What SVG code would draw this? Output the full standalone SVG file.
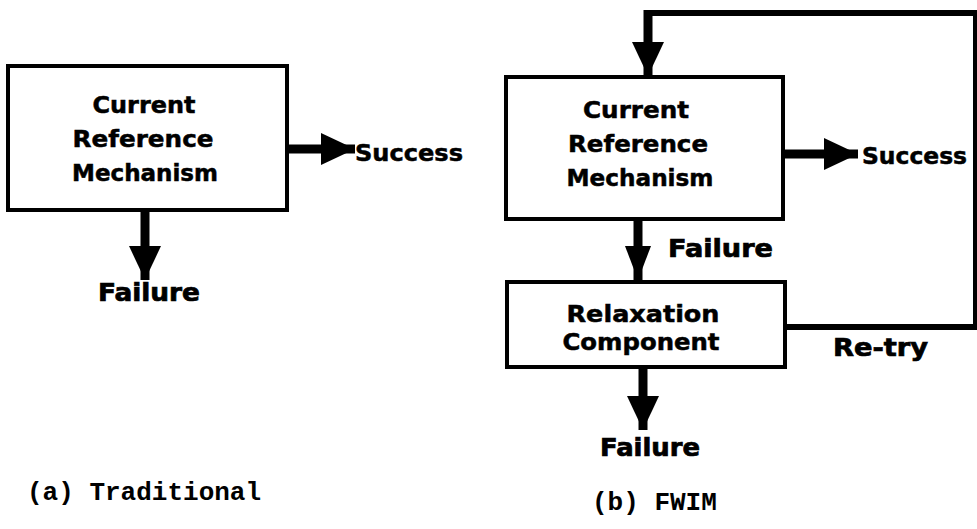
<svg xmlns="http://www.w3.org/2000/svg" width="977" height="529" viewBox="0 0 977 529">
<style>
.box{fill:#fff;stroke:#000;stroke-width:4}
.t{font-family:"DejaVu Sans","Liberation Sans",sans-serif;font-weight:bold;font-size:23px;fill:#000;stroke:#000;stroke-width:0.5}
.s{font-family:"DejaVu Sans","Liberation Sans",sans-serif;font-weight:bold;font-size:23px;fill:#000;stroke:#000;stroke-width:0.5}
.f{font-family:"DejaVu Sans","Liberation Sans",sans-serif;font-weight:bold;font-size:24px;fill:#000;stroke:#000;stroke-width:0.7}
.cap{font-family:"Liberation Mono","Courier New",monospace;font-weight:bold;font-size:26px;fill:#000}
.ln{fill:none;stroke:#000;stroke-width:9}
.fb{fill:none;stroke:#000;stroke-width:6}
</style>
<defs>
<marker id="ah" markerUnits="userSpaceOnUse" markerWidth="36" markerHeight="34" refX="34" refY="16" orient="auto">
<path d="M0,0 L34,16 L0,32 z" fill="#000"/>
</marker>
<marker id="ahs" markerUnits="userSpaceOnUse" markerWidth="36" markerHeight="28" refX="34" refY="13" orient="auto">
<path d="M0,0 L34,13 L0,26 z" fill="#000"/>
</marker>
</defs>
<g id="a-crm">
<rect class="box" x="8" y="66" width="279" height="144"/>
<text class="t" x="144" y="113" text-anchor="middle" textLength="103" lengthAdjust="spacingAndGlyphs">Current</text>
<text class="t" x="143" y="147" text-anchor="middle" textLength="141" lengthAdjust="spacingAndGlyphs">Reference</text>
<text class="t" x="145" y="181" text-anchor="middle" textLength="146" lengthAdjust="spacingAndGlyphs">Mechanism</text>
</g>
<g id="a-success"><text class="s" x="355" y="161" textLength="108" lengthAdjust="spacingAndGlyphs">Success</text></g>
<g id="a-failure"><text class="f" x="98" y="301" textLength="102" lengthAdjust="spacingAndGlyphs">Failure</text></g>
<g id="a-caption"><text class="cap" x="27" y="500">(a) Traditional</text></g>
<g id="b-crm">
<rect class="box" x="506" y="77" width="277" height="142"/>
<text class="t" x="636" y="118" text-anchor="middle" textLength="106" lengthAdjust="spacingAndGlyphs">Current</text>
<text class="t" x="638" y="152" text-anchor="middle" textLength="140" lengthAdjust="spacingAndGlyphs">Reference</text>
<text class="t" x="640" y="186" text-anchor="middle" textLength="147" lengthAdjust="spacingAndGlyphs">Mechanism</text>
</g>
<g id="b-success"><text class="s" x="862" y="164" textLength="105" lengthAdjust="spacingAndGlyphs">Success</text></g>
<g id="b-failure1"><text class="f" x="668" y="257" textLength="105" lengthAdjust="spacingAndGlyphs">Failure</text></g>
<g id="b-relax">
<rect class="box" x="507" y="282" width="278" height="85"/>
<text class="t" x="643" y="322" text-anchor="middle" textLength="153" lengthAdjust="spacingAndGlyphs">Relaxation</text>
<text class="t" x="641" y="350" text-anchor="middle" textLength="157" lengthAdjust="spacingAndGlyphs">Component</text>
</g>
<g id="b-retry"><text class="f" x="833" y="356" textLength="95" lengthAdjust="spacingAndGlyphs">Re-try</text></g>
<g id="b-failure2"><text class="f" x="600" y="456" textLength="100" lengthAdjust="spacingAndGlyphs">Failure</text></g>
<g id="b-caption"><text class="cap" x="592" y="510">(b) FWIM</text></g>
<g id="connectors">
<line class="ln" x1="287" y1="149" x2="355" y2="149" marker-end="url(#ah)"/>
<line class="ln" x1="145" y1="210" x2="145" y2="280" marker-end="url(#ah)"/>
<line class="ln" x1="783" y1="154" x2="858" y2="154" marker-end="url(#ah)"/>
<line class="ln" x1="638" y1="219" x2="638" y2="280" marker-end="url(#ahs)"/>
<line class="ln" x1="643" y1="367" x2="643" y2="430" marker-end="url(#ah)"/>
<path class="fb" d="M785,327 H975"/>
<path fill="none" stroke="#000" stroke-width="4" d="M975,330 V13"/>
<path class="fb" d="M977,13 H648"/>
<line class="ln" x1="648" y1="10" x2="648" y2="76" marker-end="url(#ah)"/>
</g>
</svg>
